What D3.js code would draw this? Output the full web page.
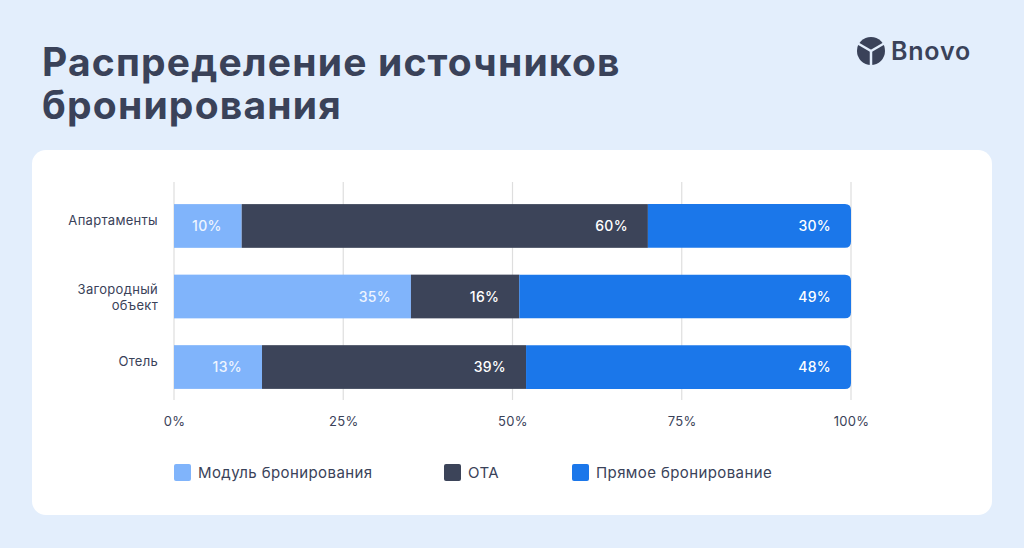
<!DOCTYPE html>
<html><head><meta charset="utf-8">
<script src="https://cdn.jsdelivr.net/npm/d3@7"></script>
<style>body{margin:0;background:#e3eefc;font-family:Inter,"Noto Sans",sans-serif}</style>
</head><body><div id="chart"></div>
<script>
var categories = ["Апартаменты", "Загородный объект", "Отель"];
var seriesNames = ["Модуль бронирования", "ОТА", "Прямое бронирование"];
var moduleVals = [10, 35, 13];
var otaVals = [60, 16, 39];
var directVals = [30, 49, 48];
var tickLabels = ["0%", "25%", "50%", "75%", "100%"];
var colors = ["#80b4fb", "#3c4459", "#1b77ea"];

var W = 1024, H = 548;
var svg = d3.select("#chart").append("svg").attr("width", W).attr("height", H);
svg.append("rect").attr("width", W).attr("height", H).attr("fill", "#e3eefc");

// title
svg.append("text").attr("x", 42).attr("y", 76).attr("fill", "#3a4259")
    .style("font-size", "39px").style("font-weight", 700).style("letter-spacing", "1.2px").text("Распределение источников");
svg.append("text").attr("x", 42).attr("y", 119).attr("fill", "#3a4259")
    .style("font-size", "39px").style("font-weight", 700).style("letter-spacing", "1.2px").text("бронирования");

// logo
var logo = svg.append("g").attr("transform", "translate(871,51)");
logo.append("circle").attr("r", 14).attr("fill", "#3a4259");
[-90, 30, 150].forEach(function(a) {
    var r = a * Math.PI / 180;
    logo.append("line").attr("x1", 0).attr("y1", 0)
        .attr("x2", 15 * Math.cos(r + Math.PI)).attr("y2", 15 * Math.sin(r + Math.PI))
        .attr("stroke", "#e3eefc").attr("stroke-width", 2.5);
});
svg.append("text").attr("x", 891).attr("y", 60).attr("fill", "#3a4259")
    .style("font-size", "25px").style("font-weight", 600).style("letter-spacing", "0.8px").text("Bnovo");

// card
svg.append("rect").attr("x", 32).attr("y", 150).attr("width", 960).attr("height", 365)
    .attr("rx", 14).attr("fill", "#fff");

var x = d3.scaleLinear().domain([0, 100]).range([174, 851]);
var y = d3.scaleBand().domain(categories).range([190, 403]).paddingInner(0.38).paddingOuter(0.2);

// grid
svg.selectAll(".grid").data([0, 25, 50, 75, 100]).enter().append("line")
    .attr("x1", function(d) { return x(d); }).attr("x2", function(d) { return x(d); })
    .attr("y1", 182).attr("y2", 400).attr("stroke", "#dedede").attr("stroke-width", 1.2);

var xAxis = d3.axisBottom(x).tickValues([0, 25, 50, 75, 100])
    .tickFormat(function(d, i) { return tickLabels[i]; }).tickSize(0).tickPadding(0);
var ax = svg.append("g").attr("transform", "translate(0,417)").call(xAxis);
ax.select(".domain").remove();
ax.selectAll("text").style("font-size", "13px").style("letter-spacing", "0.3px")
    .style("font-family", "Inter,'Noto Sans',sans-serif").attr("fill", "#3a4259");

var rows = categories.map(function(c, i) {
    return { cat: c, vals: [moduleVals[i], otaVals[i], directVals[i]] };
});
var bh = y.bandwidth();
rows.forEach(function(r) {
    var start = 0;
    r.vals.forEach(function(v, j) {
        var x0 = x(start), x1 = x(start + v);
        var yy = y(r.cat);
        if (j === 2) {
            var rad = 6;
            svg.append("path").attr("fill", colors[j])
                .attr("d", "M" + x0 + "," + yy + "H" + (x1 - rad) + "Q" + x1 + "," + yy + " " + x1 + "," + (yy + rad)
                    + "V" + (yy + bh - rad) + "Q" + x1 + "," + (yy + bh) + " " + (x1 - rad) + "," + (yy + bh) + "H" + x0 + "Z");
        } else {
            svg.append("rect").attr("x", x0).attr("y", yy).attr("width", x1 - x0).attr("height", bh).attr("fill", colors[j]);
        }
        svg.append("text").attr("x", x1 - 20).attr("y", yy + bh / 2 + 5).attr("text-anchor", "end")
            .attr("fill", j === 0 ? "#eef5ff" : "#fff").style("font-size", "14px").style("font-weight", 500)
            .style("letter-spacing", "0.3px").text(v + "%");
        start += v;
    });
    var words = r.cat.split(" ");
    var lab = svg.append("text").attr("text-anchor", "end").attr("fill", "#3a4259")
        .style("font-size", "13px").style("letter-spacing", "0.3px");
    var cy = y(r.cat) + bh / 2;
    if (words.length > 1) {
        lab.append("tspan").attr("x", 158).attr("y", cy - 3).text(words[0]);
        lab.append("tspan").attr("x", 158).attr("y", cy + 13).text(words[1]);
    } else {
        lab.append("tspan").attr("x", 158).attr("y", cy - 1).text(r.cat);
    }
});

// legend
var legX = [174, 444, 572];
seriesNames.forEach(function(n, i) {
    svg.append("rect").attr("x", legX[i]).attr("y", 464).attr("width", 17).attr("height", 17).attr("rx", 2).attr("fill", colors[i]);
    svg.append("text").attr("x", legX[i] + 24).attr("y", 478).attr("fill", "#3a4259")
        .style("font-size", "15px").style("letter-spacing", "0.4px").text(n);
});
</script></body></html>
